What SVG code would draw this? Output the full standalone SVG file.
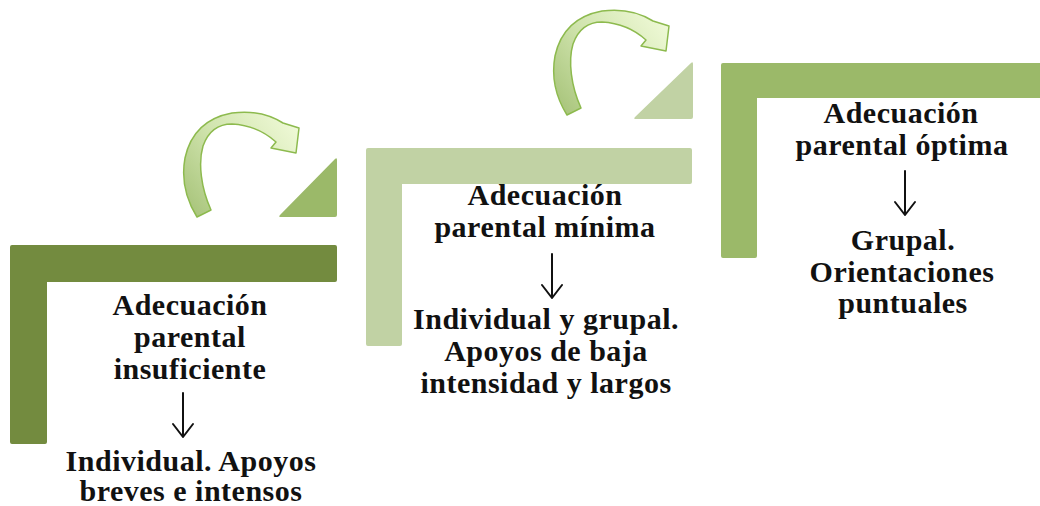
<svg xmlns="http://www.w3.org/2000/svg" width="1040" height="506" viewBox="0 0 1040 506">
  <defs>
    <linearGradient id="arrowGrad" gradientUnits="userSpaceOnUse" x1="190" y1="210" x2="300" y2="125">
      <stop offset="0" stop-color="#A9C57C"/>
      <stop offset="0.45" stop-color="#CFE3AC"/>
      <stop offset="1" stop-color="#F0FAD8"/>
    </linearGradient>
    <path id="curvedArrow" d="M197,217 C187,201 181,180 185,158 C190,135 205,118 232,113 C255,110 272,116 283,123 L299,128 L296,153 L271,148 L276,142 C265,132 250,125 232,124 C218,124 208,132 203,146 C198,163 201,188 211,210 Z"/>
    <path id="downArrow" d="M0,0 V44 M-10,31 L0,44 L10,31"/>
  </defs>
  <style>
    .lbl { font-family: "Liberation Serif", "Times New Roman", serif; font-weight: bold; font-size: 30px; fill: #111111; text-anchor: middle; letter-spacing: 0.5px; }
    .curve { fill: url(#arrowGrad); stroke: #8DBA4E; stroke-width: 1.5; stroke-linejoin: round; }
    .down { fill: none; stroke: #111111; stroke-width: 2; stroke-linecap: round; stroke-linejoin: round; }
  </style>
  <rect width="1040" height="506" fill="#FFFFFF"/>

  <g id="step1">
    <path d="M12,245 H335 Q337,245 337,247 V280 Q337,282 335,282 H47 V442 Q47,444 45,444 H12 Q10,444 10,442 V247 Q10,245 12,245 Z" fill="#738B3F"/>
    <text class="lbl" x="190" y="315">Adecuación</text>
    <text class="lbl" x="190" y="347">parental</text>
    <text class="lbl" x="190" y="379">insuficiente</text>
    <text class="lbl" x="191" y="471">Individual. Apoyos</text>
    <text class="lbl" x="191" y="501">breves e intensos</text>
  </g>

  <g id="step2">
    <path d="M368,148 H690 Q692,148 692,150 V182 Q692,184 690,184 H402 V344 Q402,346 400,346 H368 Q366,346 366,344 V150 Q366,148 368,148 Z" fill="#C1D2A4"/>
    <text class="lbl" x="545" y="205">Adecuación</text>
    <text class="lbl" x="545" y="237">parental mínima</text>
    <text class="lbl" x="546" y="329">Individual y grupal.</text>
    <text class="lbl" x="546" y="361">Apoyos de baja</text>
    <text class="lbl" x="546" y="393">intensidad y largos</text>
  </g>

  <g id="step3">
    <path d="M723,63 H1040 V98 H757 V256 Q757,258 755,258 H723 Q721,258 721,256 V65 Q721,63 723,63 Z" fill="#9BB969"/>
    <text class="lbl" x="901" y="123">Adecuación</text>
    <text class="lbl" x="902" y="155">parental óptima</text>
    <text class="lbl" x="903" y="250">Grupal.</text>
    <text class="lbl" x="902" y="282">Orientaciones</text>
    <text class="lbl" x="903" y="313">puntuales</text>
  </g>

  <g id="triangle1">
    <path d="M335,159 Q337,157 337,160 V215 Q337,217 335,217 H281 Q278,217 280,215 Z" fill="#9BB969"/>
  </g>
  <g id="triangle2">
    <path d="M691,63 Q693,61 693,64 V117 Q693,119 691,119 H636 Q633,119 635,117 Z" fill="#C1D2A4"/>
  </g>

  <g id="connectors">
    <use href="#curvedArrow" class="curve"/>
    <use href="#curvedArrow" class="curve" transform="translate(370,-102)"/>
    <use href="#downArrow" class="down" transform="translate(183,393)"/>
    <use href="#downArrow" class="down" transform="translate(552,254)"/>
    <use href="#downArrow" class="down" transform="translate(905,171)"/>
  </g>
</svg>
